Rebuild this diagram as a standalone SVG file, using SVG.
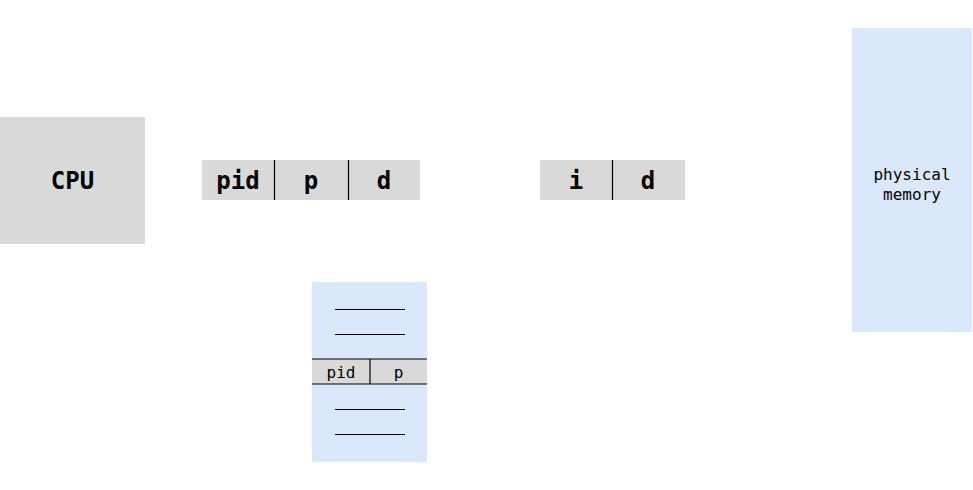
<svg xmlns="http://www.w3.org/2000/svg" width="973" height="490" viewBox="0 0 973 490">
<style>
.gray{fill:#d9d9d9;}
.blue{fill:#dae8fc;}
.ln{stroke:#000;stroke-width:1.2;fill:none;}
.t{font-family:"DejaVu Sans Mono",monospace;fill:#000;text-anchor:middle;}
.b{font-weight:bold;}
</style>
<rect width="973" height="490" fill="#fff"/>
<g id="cpu">
<rect class="gray" x="0" y="117" width="145" height="127"/>
<text class="t b" x="72.5" y="189" font-size="24">CPU</text>
</g>
<g id="logical-address">
<rect class="gray" x="202" y="160" width="218" height="40"/>
<line class="ln" x1="274.5" y1="160" x2="274.5" y2="200"/>
<line class="ln" x1="348.5" y1="160" x2="348.5" y2="200"/>
<text class="t b" x="238" y="189" font-size="24">pid</text>
<text class="t b" x="311" y="189" font-size="24">p</text>
<text class="t b" x="384" y="189" font-size="24">d</text>
</g>
<g id="physical-address">
<rect class="gray" x="540" y="160" width="145" height="40"/>
<line class="ln" x1="612.5" y1="160" x2="612.5" y2="200"/>
<text class="t b" x="576" y="189" font-size="24">i</text>
<text class="t b" x="648" y="189" font-size="24">d</text>
</g>
<g id="page-table">
<rect class="blue" x="312" y="282" width="115" height="180"/>
<line class="ln" x1="335" y1="309.5" x2="405" y2="309.5"/>
<line class="ln" x1="335" y1="334.5" x2="405" y2="334.5"/>
<rect class="gray" x="312" y="359" width="115" height="25"/>
<line class="ln" x1="312" y1="359" x2="427" y2="359"/>
<line class="ln" x1="312" y1="384" x2="427" y2="384"/>
<line class="ln" x1="370" y1="359" x2="370" y2="384"/>
<text class="t" x="341" y="378" font-size="16">pid</text>
<text class="t" x="398.5" y="378" font-size="16">p</text>
<line class="ln" x1="335" y1="409.5" x2="405" y2="409.5"/>
<line class="ln" x1="335" y1="434.5" x2="405" y2="434.5"/>
</g>
<g id="physical-memory">
<rect class="blue" x="852" y="28" width="120" height="304"/>
<text class="t" x="912" y="180" font-size="16">physical</text>
<text class="t" x="912" y="200" font-size="16">memory</text>
</g>
<g id="connectors"></g>
</svg>
